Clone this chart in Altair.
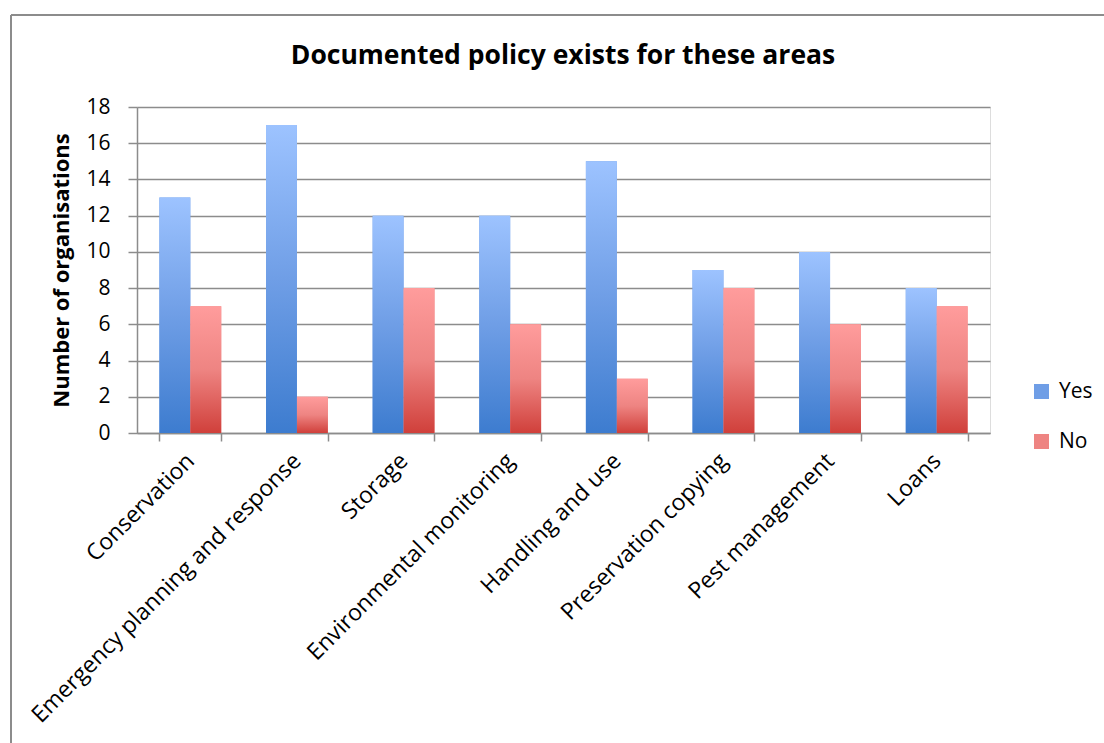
import altair as alt
import pandas as pd

categories = ["Conservation", "Emergency planning and response", "Storage",
              "Environmental monitoring", "Handling and use", "Preservation copying",
              "Pest management", "Loans"]
yes_values = [13, 17, 12, 12, 15, 9, 10, 8]
no_values = [7, 2, 8, 6, 3, 8, 6, 7]
series = ["Yes", "No"]
y_ticks = [0, 2, 4, 6, 8, 10, 12, 14, 16, 18]
chart_title = "Documented policy exists for these areas"

rows = []
for c, yv, nv in zip(categories, yes_values, no_values):
    rows.append({"category": c, "series": "Yes", "value": yv})
    rows.append({"category": c, "series": "No", "value": nv})
df = pd.DataFrame(rows)

FONT = "Open Sans"
GRID = "#8c8c8c"

blue_grad = alt.Gradient(gradient="linear", x1=0, y1=0, x2=0, y2=1,
                         stops=[alt.GradientStop(offset=0, color="#9dc3ff"),
                                alt.GradientStop(offset=0.5, color="#6f9ee6"),
                                alt.GradientStop(offset=1, color="#3d7ccf")])
red_grad = alt.Gradient(gradient="linear", x1=0, y1=0, x2=0, y2=1,
                        stops=[alt.GradientStop(offset=0, color="#ff9c9c"),
                               alt.GradientStop(offset=0.5, color="#ee8482"),
                               alt.GradientStop(offset=1, color="#d0403b")])

x_enc = alt.X("category:N", sort=categories,
              scale=alt.Scale(paddingInner=0.42, paddingOuter=0.21),
              axis=alt.Axis(title=None, labelAngle=-45, labelAlign="right",
                            labelBaseline="middle", labelFontSize=23, labelFont=FONT,
                            labelColor="#000000", labelPadding=16, tickSize=8,
                            tickBand="extent", tickColor=GRID, domainColor=GRID,
                            tickWidth=1.5, domainWidth=1.5, grid=False, labelLimit=600))
xo_enc = alt.XOffset("series:N", sort=series, scale=alt.Scale(domain=series, paddingInner=0))
y_enc = alt.Y("value:Q", scale=alt.Scale(domain=[0, 18], nice=False),
              axis=alt.Axis(values=y_ticks, title="Number of organisations",
                            titleFont=FONT, titleFontSize=22, titleFontWeight="bold",
                            titleColor="#000000", titlePadding=12,
                            labelFont=FONT, labelFontSize=21, labelColor="#000000",
                            labelPadding=18, tickSize=9, tickColor=GRID, tickWidth=1.5,
                            domainColor=GRID, domainWidth=1.5,
                            gridColor=GRID, gridWidth=1.5))

base = alt.Chart(df)

legend_layer = base.mark_bar().encode(
    x=x_enc, xOffset=xo_enc, y=y_enc,
    color=alt.Color("series:N", sort=series,
                    scale=alt.Scale(domain=series, range=["#6f9ee6", "#ee8482"]),
                    legend=alt.Legend(title=None, orient="none", legendX=894, legendY=274,
                                      labelFont=FONT, labelFontSize=21, labelColor="#000000",
                                      symbolType="square", symbolSize=225,
                                      symbolStrokeWidth=0, rowPadding=28, labelOffset=7))
)

yes_layer = base.transform_filter(alt.datum.series == "Yes").mark_bar(color=blue_grad).encode(
    x=x_enc, xOffset=xo_enc, y=y_enc)
no_layer = base.transform_filter(alt.datum.series == "No").mark_bar(color=red_grad).encode(
    x=x_enc, xOffset=xo_enc, y=y_enc)

frame_df = pd.DataFrame({"k": [0]})
frame_left = alt.Chart(frame_df).mark_rule(color="#8c8c8c", strokeWidth=2, clip=False).encode(
    x=alt.value(-126), y=alt.value(-92), y2=alt.value(640))
frame_top = alt.Chart(frame_df).mark_rule(color="#8c8c8c", strokeWidth=2, clip=False).encode(
    x=alt.value(-126), x2=alt.value(980), y=alt.value(-92))
title_layer = alt.Chart(pd.DataFrame({"t": [chart_title]})).mark_text(
    font=FONT, fontSize=26.5, fontWeight="bold", color="#000000",
    align="center", baseline="middle", clip=False).encode(
    text="t:N", x=alt.value(426), y=alt.value(-51))

chart = alt.layer(legend_layer, yes_layer, no_layer, frame_left, frame_top, title_layer).properties(
    width=853, height=326,
    autosize=alt.AutoSizeParams(type="none"),
    padding={"left": 137, "top": 107, "right": 114, "bottom": 310},
).configure_view(stroke=None).configure(background="#ffffff")

chart.save("out.html", embed_options={"renderer": "svg", "actions": False})
